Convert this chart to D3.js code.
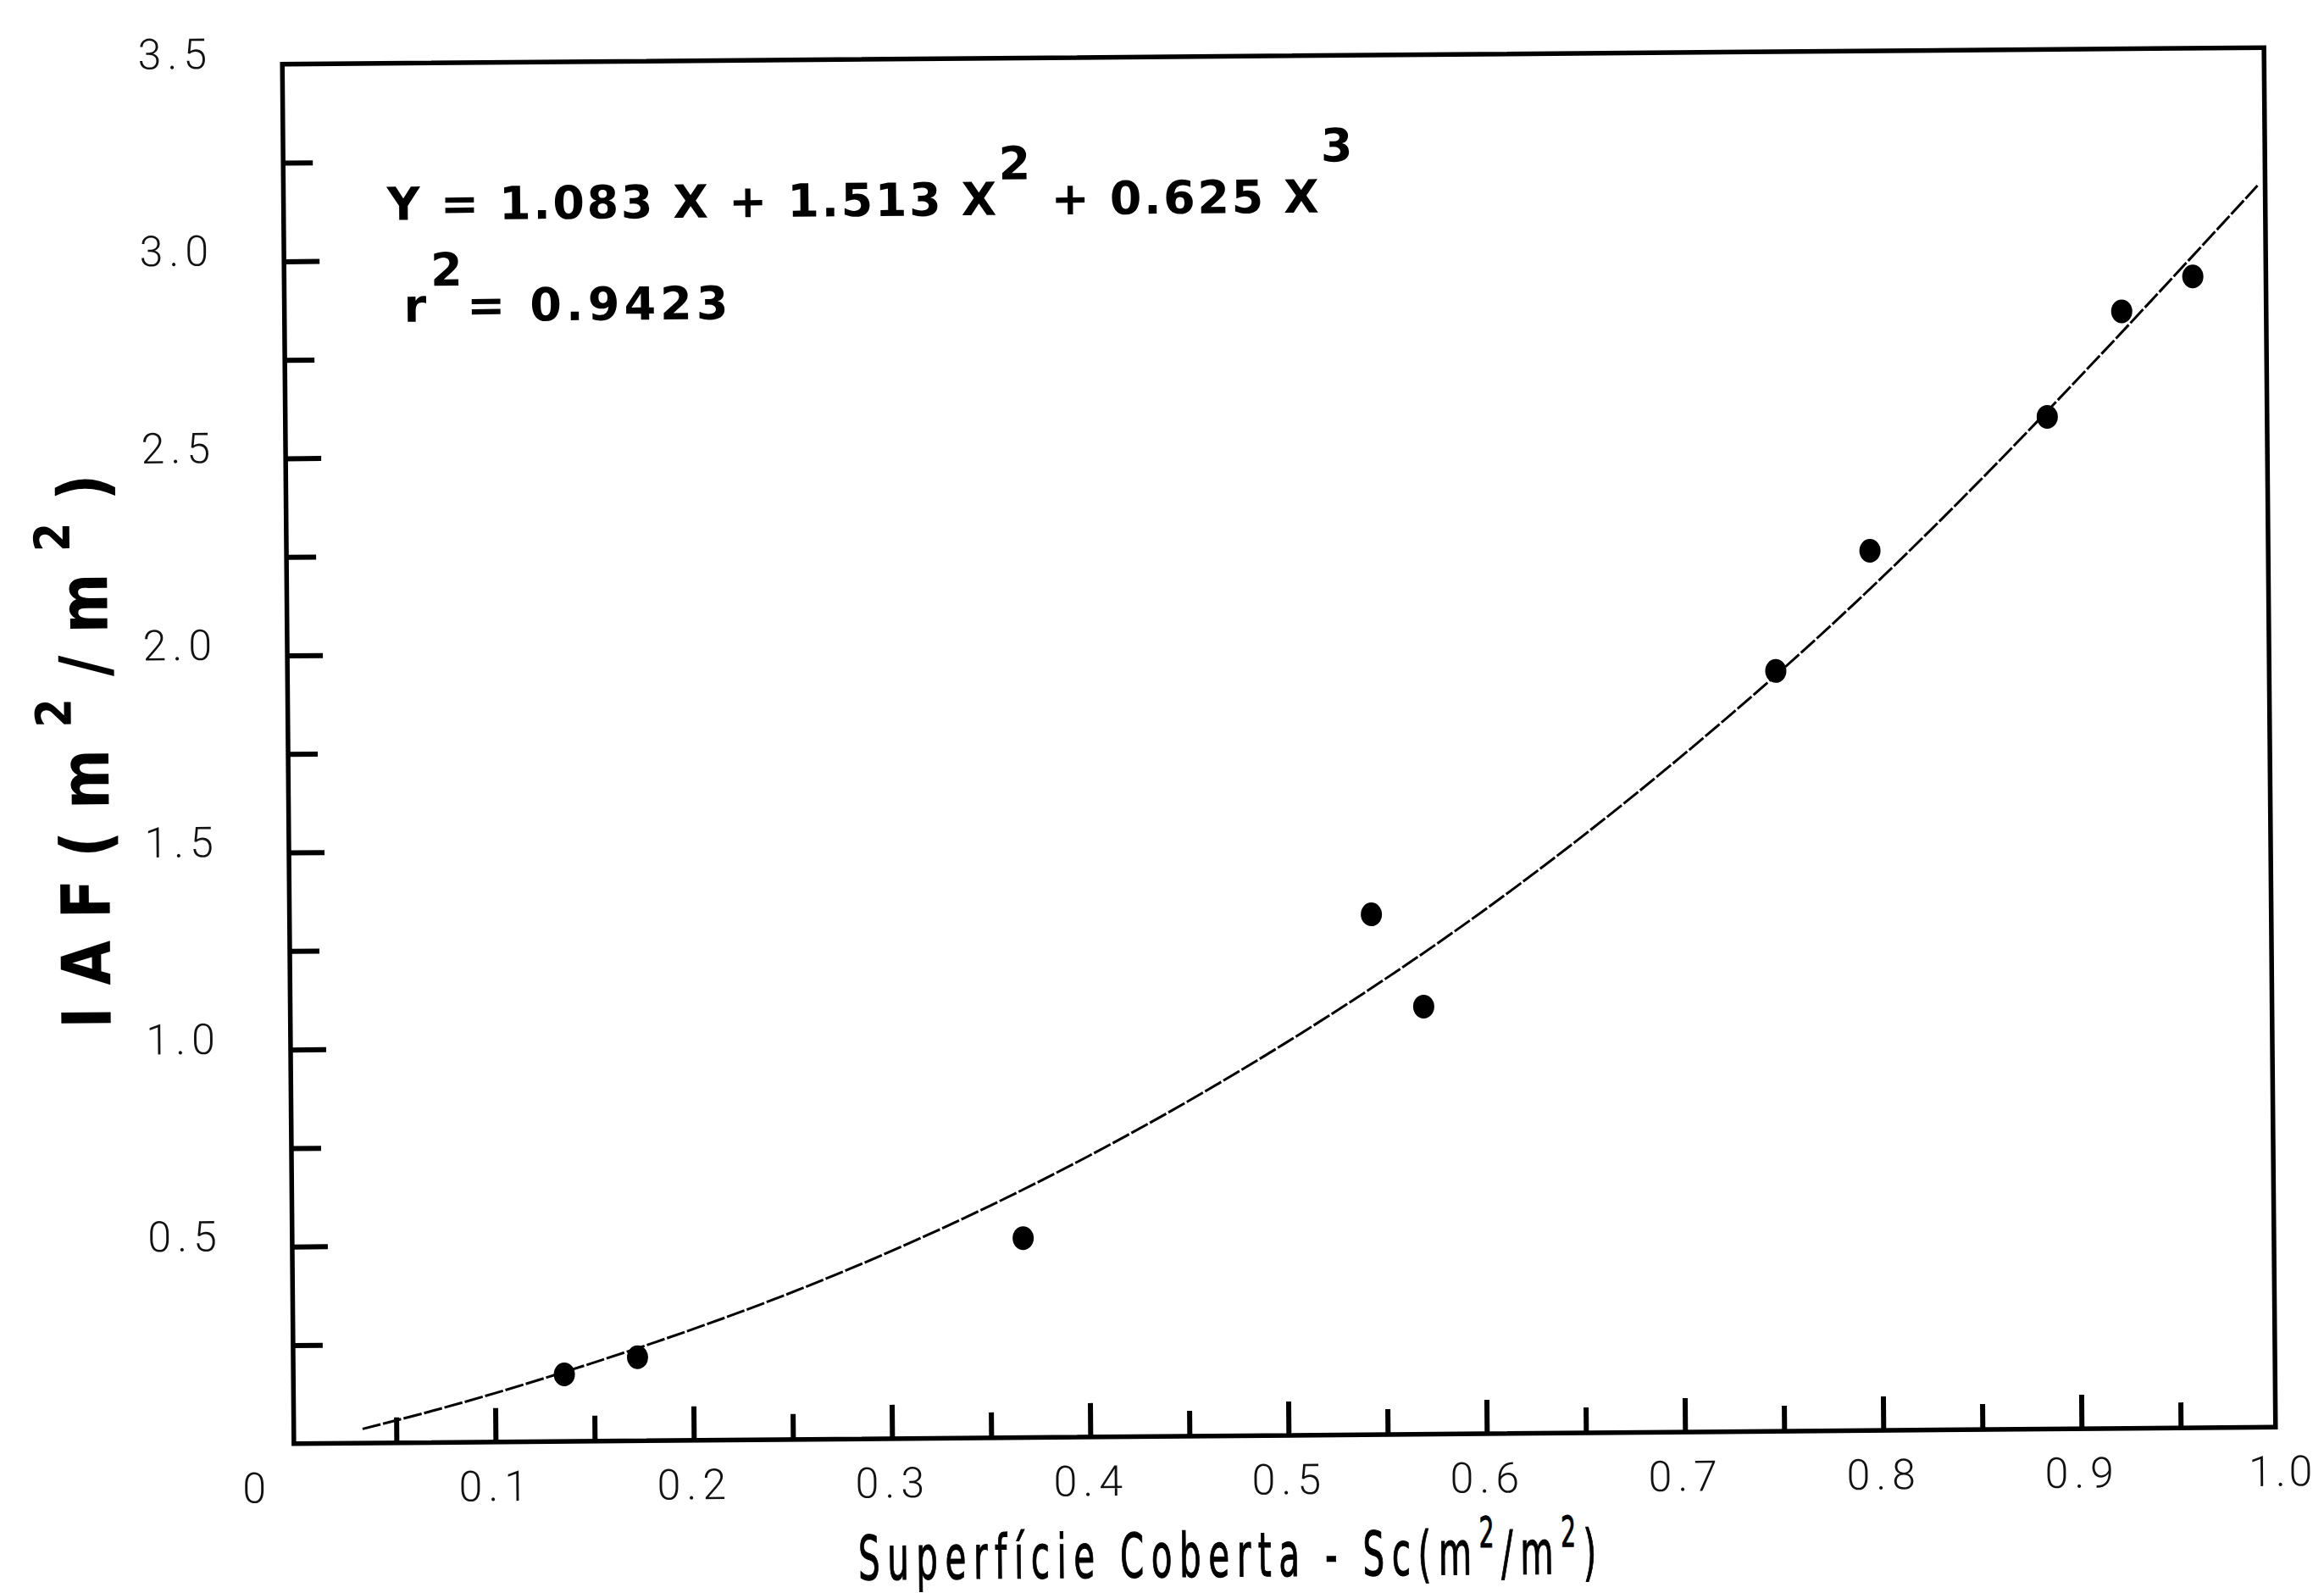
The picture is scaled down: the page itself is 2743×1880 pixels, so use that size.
<!DOCTYPE html>
<html>
<head>
<meta charset="utf-8">
<script src="https://cdn.jsdelivr.net/npm/d3@7"></script>
<style>
  body { margin: 0; background: #fff; }
  svg { display: block; }
</style>
</head>
<body>
<svg id="chart" width="2743" height="1880"></svg>
<script>
// observed points (Sc, IAF)
const coverX = [0.135, 0.172, 0.367, 0.544, 0.570, 0.749, 0.797, 0.887, 0.925, 0.961];
const iafY   = [0.170, 0.212, 0.506, 1.320, 1.085, 1.929, 2.232, 2.568, 2.834, 2.921];

// fitted curve
const fitX = [0.033, 0.1, 0.2, 0.3, 0.4, 0.5, 0.6, 0.7, 0.8, 0.9, 0.994];
const fitY = [0.036, 0.124, 0.282, 0.475, 0.712, 0.995, 1.325, 1.71, 2.15, 2.65, 3.15];

// axis ticks and labels
const xMajorTicks = [0.1, 0.2, 0.3, 0.4, 0.5, 0.6, 0.7, 0.8, 0.9];
const xMinorTicks = [0.05, 0.15, 0.25, 0.35, 0.45, 0.55, 0.65, 0.75, 0.85, 0.95];
const xLabelValues = [0, 0.1, 0.2, 0.3, 0.4, 0.5, 0.6, 0.7, 0.8, 0.9, 1.0];
const xTickLabels = ["0", "0.1", "0.2", "0.3", "0.4", "0.5", "0.6", "0.7", "0.8", "0.9", "1.0"];
const yMajorTicks = [0.5, 1.0, 1.5, 2.0, 2.5, 3.0];
const yMinorTicks = [0.25, 0.75, 1.25, 1.75, 2.25, 2.75, 3.25];
const yLabelValues = [0.5, 1.0, 1.5, 2.0, 2.5, 3.0, 3.5];
const yTickLabels = ["0.5", "1.0", "1.5", "2.0", "2.5", "3.0", "3.5"];

const svg = d3.select("#chart");
const frame = { left: 340, right: 2679, top: 66, bottom: 1694 };

const x = d3.scaleLinear().domain([0, 1]).range([344, 2684]);
const y = d3.scaleLinear().domain([0, 3.5]).range([frame.bottom, frame.top]);

// the scan is tilted a little
const g = svg.append("g").attr("transform", "rotate(-0.48 1510 879)");

const labelFont = "Roboto, 'DejaVu Sans', sans-serif";

// squeeze glyphs by `squeeze`, then spread letters so the text spans `target`
function fitTo(sel, target, base, squeeze = 1) {
    const node = sel.node();
    sel.attr("letter-spacing", 0);
    const w = node.getComputedTextLength();
    const n = node.getNumberOfChars();
    let ls = (target / squeeze - w) / n;
    if (ls < 0) { squeeze = target / w; ls = 0; }
    sel.attr("letter-spacing", ls);
    sel.attr("transform", squeeze === 1 ? base : base + ` scale(${squeeze},1)`);
}

// frame
g.append("rect")
    .attr("x", frame.left).attr("y", frame.top)
    .attr("width", frame.right - frame.left).attr("height", frame.bottom - frame.top)
    .attr("fill", "none").attr("stroke", "#000").attr("stroke-width", 5.5);

// x axis
const xg = g.append("g").attr("transform", `translate(0,${frame.bottom})`);
xg.append("g").call(d3.axisBottom(x).tickValues(xMinorTicks).tickSize(-30).tickFormat(""));
xg.append("g").call(d3.axisBottom(x).tickValues(xMajorTicks).tickSize(-40).tickFormat(""));
const xl = xg.append("g")
    .call(d3.axisBottom(x).tickValues(xLabelValues).tickSize(0).tickPadding(34)
        .tickFormat((d, i) => xTickLabels[i]));

// y axis
const yg = g.append("g").attr("transform", `translate(${frame.left},0)`);
yg.append("g").call(d3.axisLeft(y).tickValues(yMinorTicks).tickSize(-35).tickFormat(""));
yg.append("g").call(d3.axisLeft(y).tickValues(yMajorTicks).tickSize(-42).tickFormat(""));
const yl = yg.append("g")
    .call(d3.axisLeft(y).tickValues(yLabelValues).tickSize(0).tickPadding(82)
        .tickFormat((d, i) => yTickLabels[i]));

g.selectAll(".domain").remove();
g.selectAll(".tick line").attr("stroke", "#000").attr("stroke-width", 6);

[xl, yl].forEach(a => a.selectAll("text")
    .attr("font-family", labelFont).attr("font-weight", 300)
    .attr("font-size", 50).attr("letter-spacing", 7).attr("fill", "#111"));
xl.selectAll("text").filter(d => d === 0).attr("dx", -48);
xl.selectAll("text").filter(d => d === 1).attr("dx", 2).attr("letter-spacing", 4);
yl.selectAll("text").attr("y", -12);

// fitted curve
const line = d3.line()
    .x((d, i) => x(fitX[i]))
    .y((d, i) => y(fitY[i]))
    .curve(d3.curveNatural);
g.append("path")
    .attr("d", line(fitX))
    .attr("fill", "none").attr("stroke", "#000")
    .attr("stroke-width", 3).attr("stroke-dasharray", "22 3");

// observed points
g.append("g").selectAll("ellipse")
    .data(coverX)
    .join("ellipse")
    .attr("cx", d => x(d))
    .attr("cy", (d, i) => y(iafY[i]))
    .attr("rx", 12.5).attr("ry", 14)
    .attr("fill", "#000");

// regression equation
const eq = g.append("text")
    .attr("x", 462).attr("y", 251)
    .attr("font-family", "'DejaVu Sans', sans-serif").attr("font-weight", "bold")
    .attr("font-size", 54).attr("fill", "#000");
eq.append("tspan").text("Y = 1.083 X + 1.513 X");
eq.append("tspan").attr("dy", -42).text("2");
eq.append("tspan").attr("dy", 42).text(" + 0.625 X");
eq.append("tspan").attr("dy", -60).text("3");
fitTo(eq, 1143, "");

const r2 = g.append("text")
    .attr("x", 481).attr("y", 371)
    .attr("font-family", "'DejaVu Sans', sans-serif").attr("font-weight", "bold")
    .attr("font-size", 54).attr("fill", "#000");
r2.append("tspan").text("r");
r2.append("tspan").attr("dy", -42).text("2");
r2.append("tspan").attr("dy", 42).text("= 0.9423");
fitTo(r2, 388, "");

// x title
const xt = g.append("text")
    .attr("text-anchor", "middle")
    .attr("font-family", "'DejaVu Sans', sans-serif")
    .attr("font-size", 72).attr("fill", "#000")
    .attr("stroke", "#000").attr("stroke-width", 1.2);
xt.append("tspan").text("Superfície Coberta - Sc(m");
xt.append("tspan").attr("font-size", 50).attr("dy", -32).text("2");
xt.append("tspan").attr("dy", 32).text("/m");
xt.append("tspan").attr("font-size", 50).attr("dy", -32).text("2");
xt.append("tspan").attr("dy", 32).text(")");
fitTo(xt, 880, "translate(1445,1860)", 0.56);

// y title
const yt = g.append("text")
    .attr("text-anchor", "middle")
    .attr("font-family", "'DejaVu Sans', sans-serif").attr("font-weight", "bold")
    .attr("font-size", 80).attr("fill", "#000");
yt.append("tspan").text("IAF(m");
yt.append("tspan").attr("font-size", 58).attr("dy", -44).text("2");
yt.append("tspan").attr("dy", 44).text("/m");
yt.append("tspan").attr("font-size", 58).attr("dy", -44).text("2");
yt.append("tspan").attr("dy", 44).text(")");
fitTo(yt, 680, "translate(128,862) rotate(-90)", 0.85);
</script>
</body>
</html>
